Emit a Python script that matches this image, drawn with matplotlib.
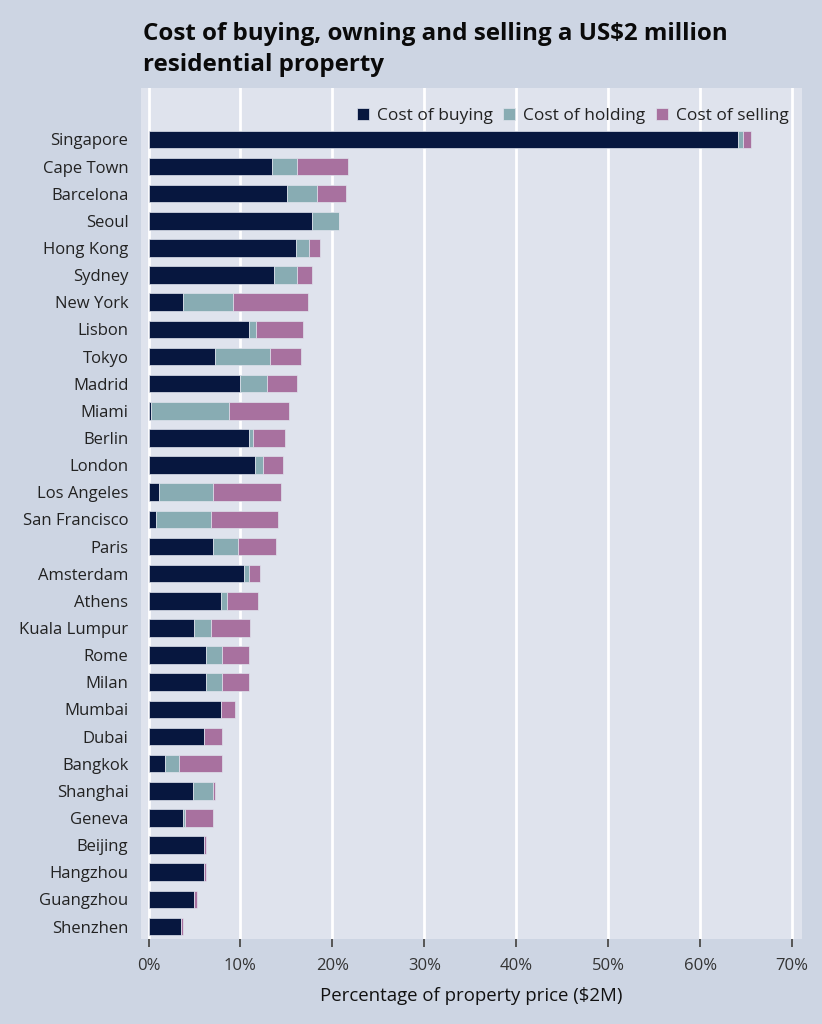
import numpy as np
import matplotlib.pyplot as plt

cities = ["Singapore", "Cape Town", "Barcelona", "Seoul", "Hong Kong", "Sydney",
          "New York", "Lisbon", "Tokyo", "Madrid", "Miami", "Berlin", "London",
          "Los Angeles", "San Francisco", "Paris", "Amsterdam", "Athens",
          "Kuala Lumpur", "Rome", "Milan", "Mumbai", "Dubai", "Bangkok",
          "Shanghai", "Geneva", "Beijing", "Hangzhou", "Guangzhou", "Shenzhen"]
buying = [64.1, 13.4, 15.1, 17.8, 16.0, 13.6, 3.8, 10.9, 7.2, 9.9, 0.3, 10.9, 11.6,
          1.1, 0.8, 7.0, 10.4, 7.9, 5.0, 6.3, 6.3, 7.9, 6.0, 1.8, 4.8, 3.8, 6.0,
          6.0, 5.0, 3.5]
holding = [0.5, 2.7, 3.2, 2.9, 1.5, 2.5, 5.4, 0.8, 6.0, 3.0, 8.4, 0.5, 0.8, 5.9,
           6.0, 2.7, 0.5, 0.6, 1.8, 1.7, 1.7, 0.0, 0.0, 1.5, 2.2, 0.2, 0.0, 0.0,
           0.0, 0.0]
selling = [0.9, 5.6, 3.2, 0.0, 1.2, 1.7, 8.1, 5.1, 3.4, 3.2, 6.6, 3.4, 2.2, 7.4,
           7.3, 4.2, 1.2, 3.4, 4.2, 2.9, 2.9, 1.5, 2.0, 4.7, 0.25, 3.0, 0.2, 0.2,
           0.25, 0.25]
xticks = [0, 10, 20, 30, 40, 50, 60, 70]

fig_bg = "#cdd5e3"
ax_bg = "#dfe3ed"
c_buy, c_hold, c_sell = "#07173f", "#88acb3", "#a8719f"

plt.rcParams["font.family"] = ["Open Sans", "DejaVu Sans"]

fig = plt.figure(figsize=(8.22, 10.24), dpi=100, facecolor=fig_bg)
ax = fig.add_axes([0.1715, 0.083, 0.8045, 0.831], facecolor=ax_bg)

y = np.arange(len(cities))
b = np.array(buying)
h = np.array(holding)
s = np.array(selling)
kw = dict(height=0.65, edgecolor=ax_bg, linewidth=0.5, zorder=3)
ax.barh(y, b, color=c_buy, label="Cost of buying", **kw)
ax.barh(y, h, left=b, color=c_hold, label="Cost of holding", **kw)
ax.barh(y, s, left=b + h, color=c_sell, label="Cost of selling", **kw)

ax.set_ylim(len(cities) - 0.54, -1.89)
ax.set_xlim(-0.82, 71.1)
ax.set_yticks(y)
ax.set_yticklabels(cities, fontsize=12, color="#222222")
ax.set_xticks(xticks)
ax.set_xticklabels([f"{t}%" for t in xticks], fontsize=12, color="#333333")
ax.tick_params(axis="y", length=0, pad=9)
ax.tick_params(axis="x", direction="out", length=6, width=1.4, color="#555555", pad=8)
ax.grid(axis="x", color="white", linewidth=2, zorder=1)
ax.set_axisbelow(True)
for sp in ax.spines.values():
    sp.set_visible(False)

ax.set_xlabel("Percentage of property price ($2M)", fontsize=13.4, color="#111111", labelpad=9)

leg = ax.legend(loc="upper right", bbox_to_anchor=(1.0, 0.993), ncol=3, frameon=False,
                fontsize=12.5, handlelength=0.7, handleheight=0.7, handletextpad=0.45,
                columnspacing=0.6, borderaxespad=0.4)
for t in leg.get_texts():
    t.set_color("#222222")

fig.text(0.174, 1 - 77 / 1024, "Cost of buying, owning and selling a US$2 million\nresidential property",
         fontsize=17.4, fontweight="bold", color="#0a0a0a", va="bottom", ha="left",
         linespacing=1.38)

fig.savefig("out.png", dpi=100, facecolor=fig_bg)
